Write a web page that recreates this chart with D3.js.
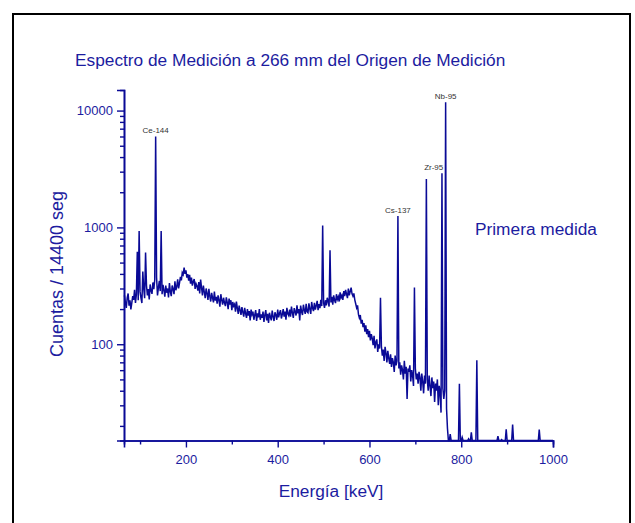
<!DOCTYPE html>
<html>
<head>
<meta charset="utf-8">
<script src="https://cdn.jsdelivr.net/npm/d3@7"></script>
<style>
  body { margin: 0; background: #fff; }
  svg { display: block; font-family: "Liberation Sans", Arial, sans-serif; }
</style>
</head>
<body>
<div id="root"></div>
<script>
// spectrum: counts per 2 keV channel, first channel at 66 keV
const ENERGY_START = 66;
const ENERGY_STEP = 2;
const counts = [
  262, 228, 205, 250, 272, 214, 238, 199, 226, 258,   // 66
  240, 292, 226, 268, 620, 238, 930, 282, 248, 225,   // 86
  420, 300, 248, 610, 318, 262, 296, 242, 325, 288,   // 106
  270, 338, 296, 355, 6000, 372, 262, 305, 348, 285,  // 126
  930, 268, 322, 290, 255, 318, 276, 300, 252, 334,   // 146
  282, 258, 318, 296, 268, 345, 290, 312, 360, 300,   // 166
  335, 378, 352, 410, 395, 452, 400, 428, 372, 398,   // 186
  350, 392, 330, 372, 318, 345, 362, 298, 330, 315,   // 206
  288, 340, 272, 358, 305, 262, 318, 280, 248, 300,   // 226
  272, 240, 298, 258, 232, 275, 250, 228, 282, 236,   // 246
  255, 222, 262, 238, 210, 268, 240, 218, 250, 226,   // 266
  212, 252, 228, 200, 246, 218, 238, 196, 230, 212,   // 286
  220, 190, 232, 204, 182, 214, 196, 178, 208, 188,   // 306
  172, 205, 184, 168, 200, 176, 192, 160, 198, 180,   // 326
  190, 162, 178, 196, 158, 184, 170, 200, 162, 180,   // 346
  168, 190, 155, 178, 196, 160, 182, 152, 186, 172,   // 366
  160, 194, 172, 158, 188, 178, 162, 198, 170, 184,   // 386
  196, 166, 180, 200, 172, 190, 162, 205, 182, 176,   // 406
  198, 172, 210, 186, 168, 204, 190, 176, 215, 184,   // 426
  200, 160, 214, 190, 178, 218, 196, 182, 222, 190,   // 446
  186, 224, 200, 182, 230, 204, 192, 226, 198, 214,   // 466
  235, 196, 220, 204, 240, 212, 1040, 226, 205, 238,  // 486
  215, 250, 232, 210, 636, 228, 255, 218, 262, 238,   // 506
  225, 268, 242, 255, 232, 278, 250, 262, 240, 285,   // 526
  258, 292, 268, 248, 300, 262, 282, 305, 270, 258,   // 546
  272, 240, 222, 205, 215, 180, 168, 178, 150, 162,   // 566
  140, 152, 128, 145, 122, 135, 115, 130, 108, 122,   // 586
  112, 98, 118, 92, 104, 110, 86, 100, 92, 250,       // 606
  96, 80, 90, 72, 95, 84, 70, 88, 76, 68,             // 626
  82, 64, 76, 70, 58, 80, 66, 72, 1250, 62,           // 646
  70, 55, 66, 60, 50, 72, 56, 64, 34, 62,             // 666
  58, 66, 48, 60, 54, 44, 306, 62, 50, 56,            // 686
  46, 58, 52, 40, 56, 48, 38, 54, 46, 2590,           // 706
  50, 40, 54, 44, 36, 52, 42, 48, 32, 46,             // 726
  40, 50, 30, 44, 38, 26, 2910, 42, 34, 40,           // 746
  11800, 28, 19, 12, 10, 17, 10, 10, 10, 10,          // 766
  10, 10, 10, 10, 10, 46, 10, 14, 16, 12,             // 786
  10, 10, 10, 10, 10, 15.5, 10, 10, 17.6, 10,         // 806
  10, 10, 10, 10, 73, 10, 10, 10, 10, 10,             // 826
  10, 10, 10, 10, 10, 10, 10, 10, 10, 10,             // 846
  10, 10, 10, 10, 10, 10, 10, 16.3, 10, 10,           // 866
  10, 15.3, 10, 10, 10, 10, 18.7, 10, 10, 10,         // 886
  10, 10, 10, 20.5, 10, 10, 10, 10, 10, 10,           // 906
  10, 10, 10, 10, 10, 10, 10, 10, 10, 10,             // 926
  10, 10, 10, 10, 10, 10, 10, 10, 10, 10,             // 946
  10, 10, 18.6, 10, 10, 10, 10, 10, 10, 10,           // 966
  10, 10, 10, 10, 10, 10, 10, 10                      // 986
];

// labelled peaks
const peakNames = ['Ce-144', 'Cs-137', 'Zr-95', 'Nb-95'];
const peakEnergies = [134, 662, 740, 766];
const peakCounts = [6000, 1250, 2910, 11800];

const xMajorTicks = [200, 400, 600, 800, 1000];
const xMinorTicks = [100, 300, 500, 700, 900];
const yMajorTicks = [100, 1000, 10000];
const yMinorTicks = [20, 30, 40, 50, 60, 70, 80, 90,
  200, 300, 400, 500, 600, 700, 800, 900,
  2000, 3000, 4000, 5000, 6000, 7000, 8000, 9000];

const width = 635;
const height = 523;
const TEXT = '#1c1ca0';
const LINE = '#0a0a96';

const spectrum = counts.map((c, i) => ({e: ENERGY_START + i * ENERGY_STEP, c: c}));

const svg = d3.select('#root')
    .append('svg')
    .attr('width', width)
    .attr('height', height);

// outer frame (bottom edge falls outside the picture)
svg.append('rect')
    .attr('x', 13)
    .attr('y', 14)
    .attr('width', 617)
    .attr('height', 560)
    .attr('fill', 'none')
    .attr('stroke', '#000')
    .attr('stroke-width', 2);

const x = d3.scaleLinear()
    .domain([65, 1000])
    .range([124, 553]);
const y = d3.scaleLog()
    .domain([15, 15000])
    .range([440.5, 90])
    .clamp(true);

svg.append('text')
    .attr('x', 75)
    .attr('y', 66)
    .attr('fill', TEXT)
    .style('font-size', '17.3px')
    .text('Espectro de Medición a 266 mm del Origen de Medición');

// spectrum line
const line = d3.line()
    .x(d => x(d.e))
    .y(d => y(d.c));

svg.append('path')
    .datum(spectrum)
    .attr('d', line)
    .attr('fill', 'none')
    .attr('stroke', LINE)
    .attr('stroke-width', 1.5);

// axes
const styleAxis = g => {
    g.select('.domain').attr('stroke', LINE).attr('stroke-width', 1.6);
    g.selectAll('.tick line').attr('stroke', LINE).attr('stroke-width', 1.4);
    g.selectAll('.tick text')
        .attr('fill', TEXT)
        .style('font-size', '13px')
        .style('font-family', '"Liberation Sans", Arial, sans-serif');
};

svg.append('g')
    .attr('transform', 'translate(0,440.5)')
    .call(d3.axisBottom(x).tickValues(xMinorTicks).tickSize(4).tickFormat(''))
    .call(styleAxis);
svg.append('g')
    .attr('transform', 'translate(0,440.5)')
    .call(d3.axisBottom(x).tickValues(xMajorTicks).tickSize(7).tickPadding(7).tickFormat(d3.format('d')))
    .call(styleAxis);

svg.append('g')
    .attr('transform', 'translate(124,0)')
    .call(d3.axisLeft(y).tickValues(yMinorTicks).tickSize(4).tickFormat(''))
    .call(styleAxis);
svg.append('g')
    .attr('transform', 'translate(124,0)')
    .call(d3.axisLeft(y).tickValues(yMajorTicks).tickSize(7).tickPadding(4).tickFormat(d3.format('d')))
    .call(styleAxis);

// axis titles
svg.append('text')
    .attr('transform', 'translate(63,274) rotate(-90)')
    .attr('text-anchor', 'middle')
    .attr('fill', TEXT)
    .style('font-size', '18px')
    .text('Cuentas / 14400 seg');

svg.append('text')
    .attr('x', 331)
    .attr('y', 497)
    .attr('text-anchor', 'middle')
    .attr('fill', TEXT)
    .style('font-size', '17.3px')
    .text('Energía [keV]');

svg.append('text')
    .attr('x', 475)
    .attr('y', 235)
    .attr('fill', TEXT)
    .style('font-size', '17.3px')
    .text('Primera medida');

// peak labels
svg.selectAll('.peak-label')
    .data(peakNames)
    .join('text')
    .attr('class', 'peak-label')
    .attr('x', (d, i) => x(peakEnergies[i]))
    .attr('y', (d, i) => y(peakCounts[i]) - 3)
    .attr('text-anchor', 'middle')
    .attr('fill', '#333')
    .style('font-size', '8px')
    .text(d => d);
</script>
</body>
</html>
